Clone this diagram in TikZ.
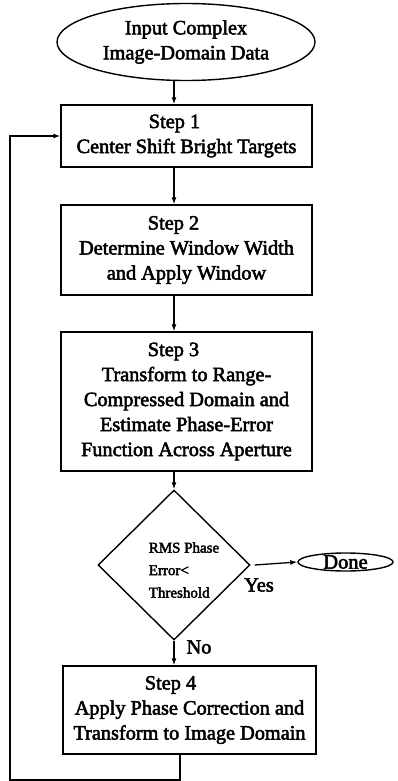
\documentclass[tikz,border=0pt]{standalone}
\usepackage{fontspec}
\setmainfont{Liberation Serif}[FakeBold=2.5]
\usetikzlibrary{shapes.geometric,arrows.meta}
\begin{document}
\begin{tikzpicture}[x=1pt,y=-1pt,
  txt/.style={font=\fontsize{20.3}{25}\selectfont},
  box/.style={draw, line width=1.4pt, rectangle, inner sep=0pt, align=center, txt},
  conn/.style={line width=1.3pt, -{Latex[length=7pt,width=5pt]}},
 ]
\useasboundingbox (0,0) rectangle (397,781);
\node[draw, ellipse, line width=1.4pt, minimum width=258pt, minimum height=77pt, inner sep=0pt, align=center, txt] (in) at (186,42) {Input Complex\\Image-Domain Data};
\node[box, minimum width=251pt, minimum height=62pt] (s1) at (186.5,136) {\mbox{Step 1\hspace{24pt}}\\Center Shift Bright Targets};
\node[box, minimum width=251pt, minimum height=90pt] (s2) at (186.5,250) {\mbox{Step 2\hspace{26pt}}\\Determine Window Width\\and Apply Window};
\node[box, minimum width=251pt, minimum height=139pt] (s3) at (186.5,401.5) {\mbox{Step 3\hspace{26pt}}\\Transform to Range-\\Compressed Domain and\\Estimate Phase-Error\\Function Across Aperture};
\node[draw, diamond, line width=1.4pt, minimum width=152pt, minimum height=150pt, inner sep=0pt,
  label={[align=left, font=\fontsize{15}{22.5}\selectfont, xshift=10pt, yshift=-5pt]center:{RMS Phase\\Error<\\Threshold}}] (dec) at (174,565) {};
\node[draw, ellipse, line width=1.4pt, minimum width=95pt, minimum height=18pt, inner sep=0pt,
  label={[font=\fontsize{20.5}{24}\selectfont]center:Done}] (done) at (345.5,562) {};
\node[txt] (yes) at (259,585) {Yes};
\node[txt] (no) at (199,647) {No};
\node[box, minimum width=253pt, minimum height=88pt] (s4) at (189.5,710) {\mbox{Step 4\hspace{38pt}}\\Apply Phase Correction and\\Transform to Image Domain};
\coordinate (fbx) at (180,0);
\coordinate (fbl) at (10,780);
\draw[conn] (in.south -| dec.north) -- (s1.north -| dec.north);
\draw[conn] (s1.south -| dec.north) -- (s2.north -| dec.north);
\draw[conn] (s2.south -| dec.north) -- (s3.north -| dec.north);
\draw[conn] (s3.south -| dec.north) -- (dec.north);
\draw[conn] (dec.south) -- (s4.north -| dec.south);
\draw[conn] ([xshift=4pt]dec.east) -- (done.west);
\draw[conn] (s4.south -| fbx) |- (fbl) |- (s1.west);
\end{tikzpicture}
\end{document}
